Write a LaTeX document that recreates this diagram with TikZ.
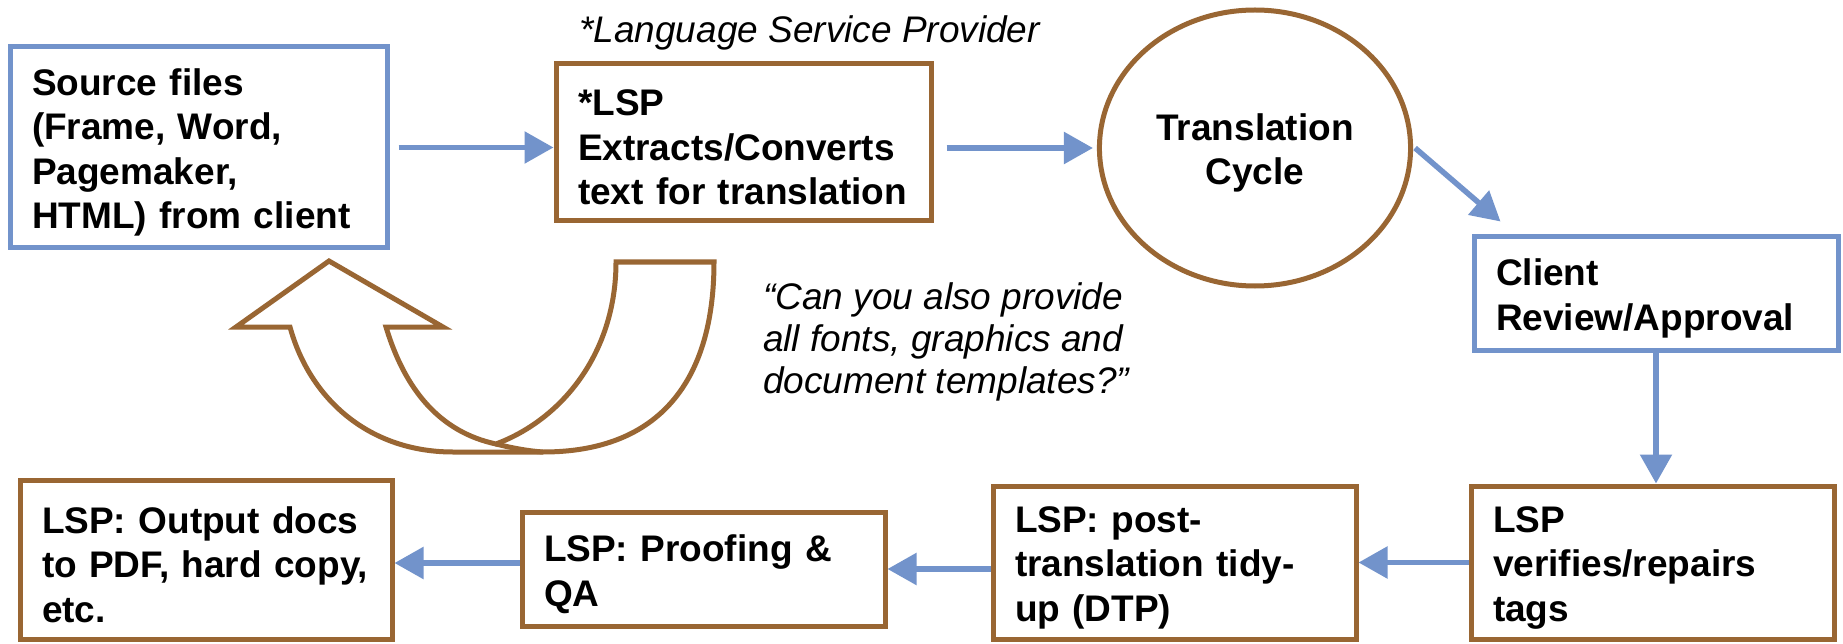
\documentclass[tikz,border=0pt]{standalone}
\usepackage{fontspec}
\setmainfont{Liberation Sans}
\usetikzlibrary{arrows.meta,shapes.geometric}
\definecolor{boxblue}{RGB}{114,147,203}
\definecolor{boxbrown}{RGB}{153,102,51}
\tikzset{
  txt/.style={font=\fontsize{37}{44.5}\selectfont\bfseries,
    execute at end node={\par\kern-10pt}},
  box/.style={txt, draw, line width=5pt, fill=white, align=left,
    inner xsep=22pt, inner ysep=0pt},
  bluebox/.style={box, draw=boxblue},
  brownbox/.style={box, draw=boxbrown},
  arr/.style={draw=boxblue, line width=5.5pt,
    -{Triangle[length=29pt,width=31pt]}},
  note/.style={font=\fontsize{37}{42}\selectfont\itshape, inner sep=0pt, align=left}
}
\begin{document}
\begin{tikzpicture}[x=1pt,y=-1pt]
\useasboundingbox (0,0) rectangle (1843,644);
\fill[white] (0,0) rectangle (1843,644);

% title note
\node[note, anchor=west] (lspnote) at (579,33) {*Language Service Provider};

% nodes
\node[bluebox, minimum width=377pt, minimum height=201pt, text width=333pt] (src) at (198.5,147.5)
  {Source files\\(Frame, Word,\\Pagemaker,\\HTML) from client};
\node[brownbox, minimum width=375pt, minimum height=157pt, text width=331pt] (lsp) at (743.5,142.5)
  {*LSP\\Extracts/Converts\\text for translation};
\node[txt, draw=boxbrown, line width=5pt, ellipse, minimum width=296pt, minimum height=276pt,
  inner sep=0pt, text width=220pt, align=center] (cycle) at (1255,148) {Translation\\Cycle};
\node[bluebox, minimum width=364pt, minimum height=113pt, text width=320pt] (client) at (1656,293.5)
  {Client\\Review/Approval};
\node[brownbox, minimum width=363pt, minimum height=153pt, text width=319pt] (verify) at (1652.5,562.5)
  {LSP\\verifies/repairs\\tags};
\node[brownbox, minimum width=363pt, minimum height=153pt, text width=319pt] (dtp) at (1174.5,562.5)
  {LSP: post-\\translation tidy-\\up (DTP)};
\node[brownbox, minimum width=363pt, minimum height=114pt, text width=319pt] (proof) at (703.5,569)
  {LSP: Proofing \&\\QA};
\node[brownbox, minimum width=372pt, minimum height=159pt, text width=328pt] (out) at (206,559.5)
  {LSP: Output docs\\to PDF, hard copy,\\etc.};

% quote
\node[note, anchor=west] (quote) at (763,342)
  {“Can you also provide\\all fonts, graphics and\\document templates?”};

% connectors
\draw[arr] ([xshift=9pt]src.east) -- (src.east -| lsp.west);
\draw[arr] ([xshift=13pt]lsp.east |- cycle.west) -- ([xshift=-4pt]cycle.west);
\draw[arr] ([xshift=2pt]cycle.east) -- ([xshift=29pt,yshift=13pt]client.north west);
\draw[arr] (client.south) -- (client.south |- verify.north);
\draw[arr] (verify.west) -- (verify.west -| dtp.east);
\draw[arr] (dtp.west |- proof.east) -- (proof.east);
\draw[arr] ([yshift=6pt]proof.west) -- ([yshift=6pt]proof.west -| out.east);

% U-turn arrow back to source
\draw[boxbrown, line width=5pt, line join=miter]
  (329,261) -- (443,327) -- (386,327)
  .. controls (405,390) and (440,432) .. (496,444)
  .. controls (565,418) and (616,350) .. (616,262)
  -- (714,262)
  .. controls (714,380) and (660,452) .. (543,452)
  -- (453,452)
  .. controls (370,452) and (310,400) .. (290,327)
  -- (236,327) -- cycle;
\draw[boxbrown, line width=5pt] (496,444) .. controls (512,448) and (528,451) .. (543,452);
\end{tikzpicture}
\end{document}
